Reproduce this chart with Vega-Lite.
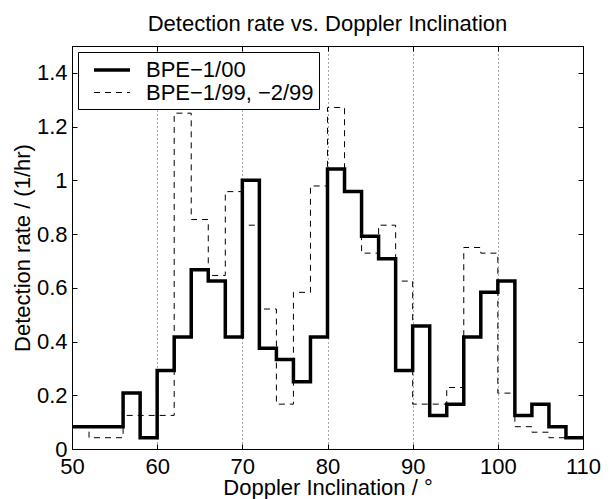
{
  "$schema": "https://vega.github.io/schema/vega-lite/v6.json",
  "width": 511,
  "height": 403,
  "autosize": "none",
  "padding": {"left": 72, "top": 46, "right": 32, "bottom": 50},
  "background": "white",
  "title": {
    "text": "Detection rate vs. Doppler Inclination",
    "font": "Liberation Sans",
    "fontSize": 22,
    "fontWeight": "normal",
    "color": "black",
    "anchor": "middle",
    "baseline": "alphabetic",
    "offset": -7
  },
  "config": {
    "view": {"stroke": "black", "strokeWidth": 1},
    "axis": {
      "labelFont": "Liberation Sans",
      "titleFont": "Liberation Sans",
      "labelFontSize": 22,
      "titleFontSize": 22,
      "titleFontWeight": "normal",
      "labelColor": "black",
      "titleColor": "black",
      "domainColor": "black",
      "tickColor": "black",
      "tickSize": -5,
      "tickWidth": 1
    }
  },
  "data": {
    "values": [
      {"x": 50, "rate": 0.083, "series": "BPE−1/00"},
      {"x": 52, "rate": 0.083, "series": "BPE−1/00"},
      {"x": 54, "rate": 0.083, "series": "BPE−1/00"},
      {"x": 56, "rate": 0.208, "series": "BPE−1/00"},
      {"x": 58, "rate": 0.042, "series": "BPE−1/00"},
      {"x": 60, "rate": 0.292, "series": "BPE−1/00"},
      {"x": 62, "rate": 0.417, "series": "BPE−1/00"},
      {"x": 64, "rate": 0.667, "series": "BPE−1/00"},
      {"x": 66, "rate": 0.625, "series": "BPE−1/00"},
      {"x": 68, "rate": 0.417, "series": "BPE−1/00"},
      {"x": 70, "rate": 1.0, "series": "BPE−1/00"},
      {"x": 72, "rate": 0.375, "series": "BPE−1/00"},
      {"x": 74, "rate": 0.333, "series": "BPE−1/00"},
      {"x": 76, "rate": 0.25, "series": "BPE−1/00"},
      {"x": 78, "rate": 0.417, "series": "BPE−1/00"},
      {"x": 80, "rate": 1.042, "series": "BPE−1/00"},
      {"x": 82, "rate": 0.958, "series": "BPE−1/00"},
      {"x": 84, "rate": 0.792, "series": "BPE−1/00"},
      {"x": 86, "rate": 0.708, "series": "BPE−1/00"},
      {"x": 88, "rate": 0.292, "series": "BPE−1/00"},
      {"x": 90, "rate": 0.458, "series": "BPE−1/00"},
      {"x": 92, "rate": 0.125, "series": "BPE−1/00"},
      {"x": 94, "rate": 0.167, "series": "BPE−1/00"},
      {"x": 96, "rate": 0.417, "series": "BPE−1/00"},
      {"x": 98, "rate": 0.583, "series": "BPE−1/00"},
      {"x": 100, "rate": 0.625, "series": "BPE−1/00"},
      {"x": 102, "rate": 0.125, "series": "BPE−1/00"},
      {"x": 104, "rate": 0.167, "series": "BPE−1/00"},
      {"x": 106, "rate": 0.083, "series": "BPE−1/00"},
      {"x": 108, "rate": 0.042, "series": "BPE−1/00"},
      {"x": 110, "rate": 0.042, "series": "BPE−1/00"},
      {"x": 50, "rate": 0.083, "series": "BPE−1/99, −2/99"},
      {"x": 52, "rate": 0.042, "series": "BPE−1/99, −2/99"},
      {"x": 54, "rate": 0.042, "series": "BPE−1/99, −2/99"},
      {"x": 56, "rate": 0.125, "series": "BPE−1/99, −2/99"},
      {"x": 58, "rate": 0.125, "series": "BPE−1/99, −2/99"},
      {"x": 60, "rate": 0.125, "series": "BPE−1/99, −2/99"},
      {"x": 62, "rate": 1.25, "series": "BPE−1/99, −2/99"},
      {"x": 64, "rate": 0.854, "series": "BPE−1/99, −2/99"},
      {"x": 66, "rate": 0.646, "series": "BPE−1/99, −2/99"},
      {"x": 68, "rate": 0.958, "series": "BPE−1/99, −2/99"},
      {"x": 70, "rate": 0.833, "series": "BPE−1/99, −2/99"},
      {"x": 72, "rate": 0.521, "series": "BPE−1/99, −2/99"},
      {"x": 74, "rate": 0.167, "series": "BPE−1/99, −2/99"},
      {"x": 76, "rate": 0.583, "series": "BPE−1/99, −2/99"},
      {"x": 78, "rate": 0.979, "series": "BPE−1/99, −2/99"},
      {"x": 80, "rate": 1.271, "series": "BPE−1/99, −2/99"},
      {"x": 82, "rate": 0.958, "series": "BPE−1/99, −2/99"},
      {"x": 84, "rate": 0.729, "series": "BPE−1/99, −2/99"},
      {"x": 86, "rate": 0.833, "series": "BPE−1/99, −2/99"},
      {"x": 88, "rate": 0.625, "series": "BPE−1/99, −2/99"},
      {"x": 90, "rate": 0.167, "series": "BPE−1/99, −2/99"},
      {"x": 92, "rate": 0.167, "series": "BPE−1/99, −2/99"},
      {"x": 94, "rate": 0.229, "series": "BPE−1/99, −2/99"},
      {"x": 96, "rate": 0.75, "series": "BPE−1/99, −2/99"},
      {"x": 98, "rate": 0.729, "series": "BPE−1/99, −2/99"},
      {"x": 100, "rate": 0.208, "series": "BPE−1/99, −2/99"},
      {"x": 102, "rate": 0.083, "series": "BPE−1/99, −2/99"},
      {"x": 104, "rate": 0.0625, "series": "BPE−1/99, −2/99"},
      {"x": 106, "rate": 0.042, "series": "BPE−1/99, −2/99"},
      {"x": 108, "rate": 0.042, "series": "BPE−1/99, −2/99"},
      {"x": 110, "rate": 0.042, "series": "BPE−1/99, −2/99"}
    ]
  },
  "layer": [
    {
      "transform": [{"filter": "datum.series === 'BPE−1/00'"}],
      "mark": {"type": "line", "interpolate": "step-after", "color": "black", "strokeJoin": "miter", "strokeCap": "butt"},
      "encoding": {
        "x": {
          "field": "x", "type": "quantitative",
          "scale": {"domain": [50, 110], "nice": false, "zero": false},
          "axis": {
            "orient": "bottom",
            "values": [50, 60, 70, 80, 90, 100, 110],
            "title": "Doppler Inclination / °",
            "labelPadding": 12.5,
            "titlePadding": 0,
            "grid": true,
            "gridColor": "#555",
            "gridDash": [1, 3],
            "gridWidth": 1,
            "labelFlush": false
          }
        },
        "y": {
          "field": "rate", "type": "quantitative",
          "scale": {"domain": [0, 1.5], "nice": false},
          "axis": {
            "orient": "left",
            "values": [0, 0.2, 0.4, 0.6, 0.8, 1, 1.2, 1.4],
            "format": "~g",
            "title": "Detection rate / (1/hr)",
            "labelPadding": 10,
            "titlePadding": 2,
            "grid": false
          }
        },
        "strokeDash": {
          "field": "series", "type": "nominal",
          "scale": {"domain": ["BPE−1/00", "BPE−1/99, −2/99"], "range": [[1, 0], [6, 5]]},
          "legend": {
            "title": null,
            "orient": "none",
            "legendX": 6,
            "legendY": 6,
            "fillColor": "white",
            "strokeColor": "black",
            "padding": 5,
            "rowPadding": 0,
            "symbolType": "M-1.64,0H1.64",
            "symbolSize": 484,
            "symbolStrokeColor": "black",
            "symbolFillColor": "transparent",
            "symbolOffset": 16,
            "labelOffset": 21,
            "labelFont": "Liberation Sans",
            "labelFontSize": 22,
            "labelColor": "black",
            "labelLimit": 400
          }
        },
        "strokeWidth": {
          "field": "series", "type": "nominal",
          "scale": {"domain": ["BPE−1/00", "BPE−1/99, −2/99"], "range": [3.5, 1]},
          "legend": {
            "title": null,
            "orient": "none",
            "legendX": 6,
            "legendY": 6
          }
        }
      }
    },
    {
      "transform": [{"filter": "datum.series !== 'BPE−1/00'"}],
      "mark": {"type": "line", "interpolate": "step-after", "color": "black", "strokeCap": "butt"},
      "encoding": {
        "x": {
          "field": "x", "type": "quantitative",
          "scale": {"domain": [50, 110], "nice": false, "zero": false},
          "axis": {"orient": "top", "values": [50, 60, 70, 80, 90, 100, 110], "labels": false, "title": null, "grid": false}
        },
        "y": {
          "field": "rate", "type": "quantitative",
          "scale": {"domain": [0, 1.5], "nice": false},
          "axis": {"orient": "right", "values": [0, 0.2, 0.4, 0.6, 0.8, 1, 1.2, 1.4], "labels": false, "title": null, "grid": false}
        },
        "strokeDash": {"field": "series", "type": "nominal"},
        "strokeWidth": {"field": "series", "type": "nominal"}
      }
    }
  ],
  "resolve": {"axis": {"x": "independent", "y": "independent"}}
}
